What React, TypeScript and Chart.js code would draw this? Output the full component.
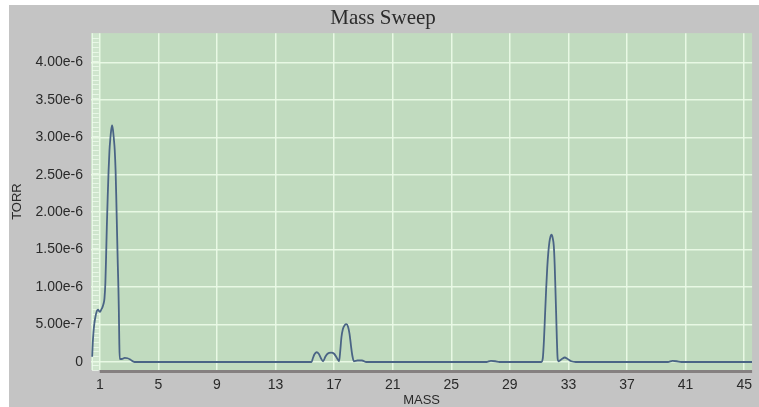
import React, { useEffect, useRef } from "react";
import { Chart, registerables } from "chart.js";

Chart.register(...registerables);

// Mass sweep scan: mass (amu) and measured partial pressure (Torr)
const massAmu = [
  0.48, 0.52, 0.57, 0.62, 0.7, 0.8, 0.88, 0.95, 1.02, 1.1, 1.18, 1.26, 1.32, 1.38, 1.43, 1.48,
  1.54, 1.6, 1.66, 1.72, 1.78, 1.84, 1.9, 1.96, 2.02, 2.08, 2.13, 2.18, 2.23, 2.27, 2.3, 2.33,
  2.36, 2.5, 2.7, 2.9, 3.1, 3.37, 6, 10, 15.46, 15.55, 15.65, 15.8, 15.95, 16.1, 16.25, 16.4,
  16.55, 16.8, 17.0, 17.2, 17.34, 17.42, 17.5, 17.6, 17.72, 17.84, 17.95, 18.05, 18.15, 18.25,
  18.35, 18.6, 18.9, 19.2, 23, 27.4, 27.7, 28.0, 28.3, 31.15, 31.25, 31.33, 31.4, 31.48, 31.55,
  31.62, 31.7, 31.78, 31.85, 31.92, 32.0, 32.06, 32.11, 32.16, 32.21, 32.26, 32.32, 32.55,
  32.75, 32.95, 33.2, 33.5, 36, 39.8, 40.1, 40.4, 40.7, 43, 45.54,
];

const pressureTorr = [
  0.07e-6, 0.25e-6, 0.4e-6, 0.5e-6, 0.6e-6, 0.68e-6, 0.7e-6, 0.68e-6, 0.67e-6, 0.7e-6, 0.73e-6,
  0.78e-6, 0.85e-6, 1.05e-6, 1.4e-6, 1.8e-6, 2.2e-6, 2.55e-6, 2.82e-6, 2.98e-6, 3.1e-6, 3.16e-6,
  3.1e-6, 2.98e-6, 2.83e-6, 2.55e-6, 2.16e-6, 1.72e-6, 1.3e-6, 1.0e-6, 0.7e-6, 0.3e-6, 0.04e-6,
  0.04e-6, 0.055e-6, 0.05e-6, 0.03e-6, 0, 0, 0, 0, 0.05e-6, 0.1e-6, 0.13e-6, 0.11e-6, 0.05e-6,
  0.01e-6, 0.07e-6, 0.11e-6, 0.125e-6, 0.11e-6, 0.05e-6, 0.01e-6, 0.15e-6, 0.33e-6, 0.44e-6,
  0.49e-6, 0.505e-6, 0.47e-6, 0.38e-6, 0.22e-6, 0.08e-6, 0.01e-6, 0.02e-6, 0.02e-6, 0, 0, 0,
  0.015e-6, 0.01e-6, 0, 0, 0.05e-6, 0.3e-6, 0.62e-6, 0.98e-6, 1.25e-6, 1.45e-6, 1.6e-6, 1.68e-6,
  1.7e-6, 1.66e-6, 1.55e-6, 1.3e-6, 0.98e-6, 0.65e-6, 0.3e-6, 0.05e-6, 0.01e-6, 0.04e-6,
  0.06e-6, 0.04e-6, 0.01e-6, 0, 0, 0, 0.015e-6, 0.01e-6, 0, 0, 0,
];

const massTicks = [1, 5, 9, 13, 17, 21, 25, 29, 33, 37, 41, 45];
const torrTicks = [0, 5e-7, 1e-6, 1.5e-6, 2e-6, 2.5e-6, 3e-6, 3.5e-6, 4e-6];

const MASS_MIN = 0.4;
const MASS_MAX = 45.54;
const TORR_MIN = -1.07e-7;
const TORR_MAX = 4.39e-6;

const sansFont = '"Liberation Sans", Arial, Helvetica, sans-serif';
const labelColor = "#2a2a2a";
const gridColor = "rgba(234, 250, 230, 0.95)";

// Grey panel, green plotting field, ruled gutter at the left and the dark base rail
const panelPlugin = {
  id: "panel",
  beforeDraw(chart: any) {
    const { ctx, chartArea: a, scales } = chart;
    ctx.save();
    ctx.fillStyle = "#c4c4c4";
    ctx.fillRect(0, 0, chart.width, chart.height);
    ctx.fillStyle = "#c1dbbf";
    ctx.fillRect(a.left, a.top, a.right - a.left, a.bottom - a.top);

    const gutterRight = scales.x.getPixelForValue(massTicks[0]);
    ctx.fillStyle = "rgba(236, 250, 232, 0.35)";
    ctx.fillRect(a.left, a.top, gutterRight - a.left, a.bottom - a.top);
    ctx.strokeStyle = "rgba(240, 252, 238, 0.75)";
    ctx.lineWidth = 1;
    const step = (torrTicks[1] - torrTicks[0]) / 8;
    for (let v = TORR_MIN; v <= TORR_MAX; v += step) {
      const y = Math.round(scales.y.getPixelForValue(v)) + 0.5;
      ctx.beginPath();
      ctx.moveTo(a.left + 1, y);
      ctx.lineTo(gutterRight - 1, y);
      ctx.stroke();
    }
    ctx.beginPath();
    ctx.moveTo(a.left + 1.5, a.top);
    ctx.lineTo(a.left + 1.5, a.bottom);
    ctx.stroke();
    ctx.restore();
  },
  afterDraw(chart: any) {
    const { ctx, chartArea: a, scales } = chart;
    const railLeft = scales.x.getPixelForValue(massTicks[0]);
    ctx.save();
    ctx.fillStyle = "#858080";
    ctx.fillRect(railLeft, a.bottom, a.right - railLeft, 3);
    ctx.restore();
  },
};

export default function App() {
  const canvasRef = useRef<HTMLCanvasElement | null>(null);

  useEffect(() => {
    const canvas = canvasRef.current;
    if (!canvas) return;
    const points = massAmu.map((m, i) => ({ x: m, y: pressureTorr[i] }));

    const chart = new Chart(canvas, {
      type: "line",
      data: {
        datasets: [
          {
            data: points,
            borderColor: "#4a6485",
            borderWidth: 1.8,
            pointRadius: 0,
            cubicInterpolationMode: "monotone",
            fill: false,
          },
        ],
      },
      options: {
        responsive: false,
        animation: false,
        devicePixelRatio: 1,
        layout: { padding: { top: 0, right: 2, bottom: 0, left: 0 } },
        plugins: {
          legend: { display: false },
          tooltip: { enabled: false },
          title: {
            display: true,
            text: "Mass Sweep",
            color: "#2b2b2b",
            font: {
              family: '"Liberation Serif", "Times New Roman", serif',
              size: 21,
              weight: "normal",
              lineHeight: 1.15,
            },
            padding: { top: 1, bottom: 3 },
          },
        },
        scales: {
          x: {
            type: "linear",
            min: MASS_MIN,
            max: MASS_MAX,
            afterBuildTicks: (s: any) => {
              s.ticks = massTicks.map((v) => ({ value: v }));
            },
            afterFit: (s: any) => {
              s.height = 37;
            },
            ticks: {
              autoSkip: false,
              maxRotation: 0,
              padding: 7,
              color: labelColor,
              font: { family: sansFont, size: 14 },
              callback: (v: any) => String(v),
            },
            grid: { color: gridColor, lineWidth: 1.5, drawTicks: false },
            border: { display: false },
            title: {
              display: true,
              text: "MASS",
              color: labelColor,
              font: { family: sansFont, size: 13, lineHeight: 1 },
              padding: 0,
            },
          },
          y: {
            type: "linear",
            min: TORR_MIN,
            max: TORR_MAX,
            afterBuildTicks: (s: any) => {
              s.ticks = torrTicks.map((v) => ({ value: v }));
            },
            afterFit: (s: any) => {
              s.width = 82;
            },
            ticks: {
              autoSkip: false,
              padding: 8,
              color: labelColor,
              font: { family: sansFont, size: 14 },
              callback: (v: any) => (Number(v) === 0 ? "0" : Number(v).toExponential(2)),
            },
            grid: { color: gridColor, lineWidth: 1.5, drawTicks: false },
            border: { display: false },
            title: {
              display: true,
              text: "TORR",
              color: labelColor,
              font: { family: sansFont, size: 13 },
              padding: { top: 1, bottom: 0 },
            },
          },
        },
      },
      plugins: [panelPlugin],
    } as any);

    return () => chart.destroy();
  }, []);

  return (
    <div style={{ position: "absolute", left: 9, top: 5, width: 750, height: 402 }}>
      <canvas ref={canvasRef} width={750} height={402} style={{ display: "block", width: 750, height: 402 }} />
    </div>
  );
}
